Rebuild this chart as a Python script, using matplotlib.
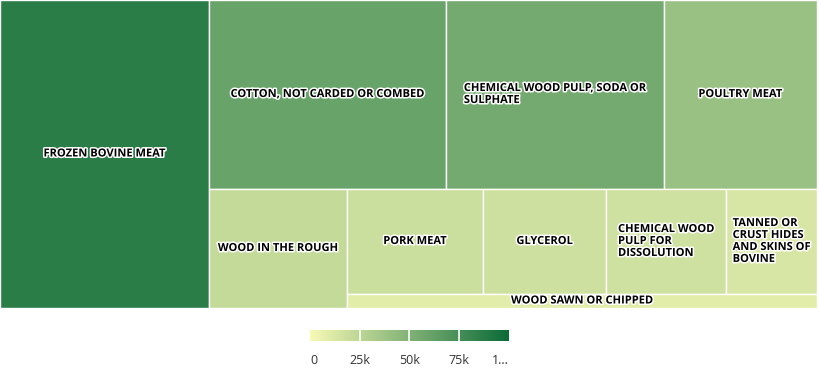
import textwrap
import numpy as np
import matplotlib
matplotlib.use('Agg')
import matplotlib.pyplot as plt
import matplotlib.patheffects as pe
from matplotlib.colors import LinearSegmentedColormap, Normalize
from matplotlib.cm import ScalarMappable

# data (export values)
products = ['FROZEN BOVINE MEAT', 'COTTON, NOT CARDED OR COMBED',
            'CHEMICAL WOOD PULP, SODA OR SULPHATE', 'POULTRY MEAT',
            'WOOD IN THE ROUGH', 'PORK MEAT', 'GLYCEROL',
            'CHEMICAL WOOD PULP FOR DISSOLUTION',
            'TANNED OR CRUST HIDES AND SKINS OF BOVINE',
            'WOOD SAWN OR CHIPPED']
values = [87000, 60500, 55700, 39100, 22200, 19300, 17500, 17000, 12900, 8900]
cbar_ticks = [0, 25000, 50000, 75000, 100000]
cbar_labels = ['0', '25k', '50k', '75k', '1...']

W, H = 817, 308


def squarify_alt(vals, x, y, w, h):
    # squarified layout that alternates column / row strips
    rects = []
    total = float(sum(vals))
    i = 0
    vertical = True
    while i < len(vals):
        area = [v / total * w * h for v in vals[i:]]
        best = np.inf
        n = 0
        for k in range(1, len(area) + 1):
            s = sum(area[:k])
            if vertical:
                t = s / h
                sides = [(t, a / t) for a in area[:k]]
            else:
                t = s / w
                sides = [(a / t, t) for a in area[:k]]
            worst = max(max(a / b, b / a) for a, b in sides)
            if worst <= best:
                best = worst
                n = k
            else:
                break
        s = sum(area[:n])
        if vertical:
            t = s / h
            yy = y
            for a in area[:n]:
                rects.append((x, yy, t, a / t))
                yy += a / t
            x += t
            w -= t
        else:
            t = s / w
            xx = x
            for a in area[:n]:
                rects.append((xx, y, a / t, t))
                xx += a / t
            y += t
            h -= t
        total -= sum(vals[i:i + n])
        i += n
        vertical = not vertical
    return rects


cmap = LinearSegmentedColormap.from_list('hc', ['#f7f9b5', '#0b6a37'])
norm = Normalize(0, 100000)

fig = plt.figure(figsize=(8.2, 3.75), dpi=100)
ax = fig.add_axes([0, 1 - 308 / 375, 817 / 820, 308 / 375])
ax.set_xlim(0, W)
ax.set_ylim(H, 0)
ax.axis('off')

rects = squarify_alt(values, 0, 0, W, H)
outline = [pe.withStroke(linewidth=2.2, foreground='white')]
for (x, y, w, h), name, v in zip(rects, products, values):
    ax.add_patch(plt.Rectangle((x, y), w, h, facecolor=cmap(norm(v)),
                               edgecolor='white', linewidth=1))
    lines = textwrap.wrap(name, max(int((w - 10) / 6.6), 4))
    ax.text(x + w / 2, y + h / 2, '\n'.join(lines), ha='center', va='center',
            multialignment='left', fontsize=8, fontweight='bold',
            family=['Open Sans', 'DejaVu Sans'], color='black',
            linespacing=1.12, path_effects=outline)

# colour axis
cax = fig.add_axes([310 / 820, 1 - 341 / 375, 199 / 820, 11 / 375])
cb = fig.colorbar(ScalarMappable(norm=norm, cmap=cmap), cax=cax,
                  orientation='horizontal')
cb.outline.set_visible(False)
cb.set_ticks(cbar_ticks)
cb.set_ticklabels(cbar_labels)
cax.tick_params(length=0, pad=9, labelsize=9, labelcolor='#333333')
for t in cbar_ticks[1:-1]:
    cax.axvline(t, color='white', linewidth=1.2)
tl = cax.get_xticklabels()
tl[0].set_ha('left')
tl[-1].set_ha('right')
for lab in tl:
    lab.set_family(['Open Sans', 'DejaVu Sans'])

fig.savefig('out.png', dpi=100, facecolor='white')
